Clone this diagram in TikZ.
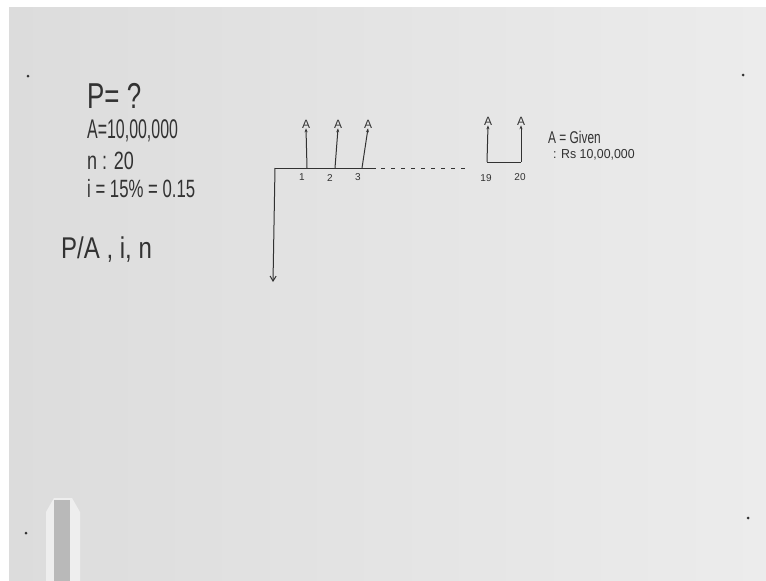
\documentclass[tikz,border=0pt]{standalone}
\usepackage{fontspec}
\setmainfont{Liberation Sans}
\usetikzlibrary{arrows.meta}
\definecolor{boardl}{RGB}{220,220,220}
\definecolor{boardr}{RGB}{236,236,236}
\definecolor{halo}{RGB}{238,238,238}
\definecolor{ink}{RGB}{50,50,50}
\newcommand{\hand}[2][0.6]{\scalebox{#1}[1]{#2}}
\tikzset{
    txt/.style={text=ink, inner sep=0pt, anchor=west},
    big/.style={txt, font=\fontsize{27}{27}\selectfont},
    mid/.style={txt, anchor=center, font=\fontsize{12}{12}\selectfont},
    sml/.style={txt, anchor=center, font=\fontsize{10}{10}\selectfont},
    pen/.style={draw=ink, line width=1pt},
    up/.style={pen, -{Stealth[length=4pt, width=3pt]}},
    pin/.style={circle, fill=ink, inner sep=0pt, minimum size=3pt}
}
\begin{document}
\begin{tikzpicture}[x=1pt, y=-1pt]
    \useasboundingbox (0,0) rectangle (766,581);
    % whiteboard
    \fill[white] (0,0) rectangle (766,581);
    \shade[left color=boardl, right color=boardr] (9,7) rectangle (766,581);
    \node[pin] (pa) at (28,76) {};
    \node[pin] (pb) at (743,75) {};
    \node[pin] (pc) at (26,533) {};
    \node[pin] (pd) at (748,518) {};
    % eraser
    \fill[halo] (46,512) -- (54,498) -- (72,498) -- (80,512) -- (80,581) -- (46,581) -- cycle;
    \fill[gray!55] (54,500) rectangle (70,581);

    % given data
    \node[txt, font=\fontsize{36}{36}\selectfont] (pq) at (87,96) {\hand[0.72]{P= ?}};
    \node[big] (av) at (87,131) {\hand[0.59]{A=10,00,000}};
    \node[big, font=\fontsize{25}{25}\selectfont] (nv) at (87,161) {\hand[0.72]{n : 20}};
    \node[big, font=\fontsize{25}{25}\selectfont] (iv) at (87,189) {\hand[0.67]{i = 15\% = 0.15}};
    \node[big, font=\fontsize{30}{30}\selectfont] (fac) at (61,250) {\hand[0.8]{P/A , i, n}};

    % cash flow line
    \coordinate (o) at (275,168);
    \coordinate (t1) at (307,168);
    \coordinate (t2) at (335,168);
    \coordinate (t3) at (362,168);
    \coordinate (e) at (376,168);
    \coordinate (d) at (465,168);
    \coordinate (p) at (273,282);
    \draw[pen] (o) -- (e);
    \draw[pen, dash pattern=on 4pt off 6pt] (e) ++(5,0) -- (d);
    \draw[pen, -{Straight Barb[length=5pt, width=6pt]}] (o) -- (p);

    \node[mid] (a1) at (306,124) {A};
    \node[mid] (a2) at (338,124) {A};
    \node[mid] (a3) at (368,124) {A};
    \draw[up] (t1) -- (a1.south);
    \draw[up] (t2) -- (a2.south);
    \draw[up] (t3) -- (a3.south);
    \node[sml] (n1) at (302,177) {1};
    \node[sml] (n2) at (330,178) {2};
    \node[sml] (n3) at (358,177) {3};

    % last two years
    \coordinate (b19) at (487,162);
    \coordinate (b20) at (521,162);
    \node[mid] (a19) at (488,121) {A};
    \node[mid] (a20) at (521,121) {A};
    \draw[pen] (b19) -- (b20);
    \draw[up] (b19) -- (a19.south);
    \draw[up] (b20) -- (a20.south);
    \node[sml] (n19) at (486,178) {19};
    \node[sml] (n20) at (520,177) {20};

    \node[txt, font=\fontsize{17}{17}\selectfont] (ag) at (548,137) {\hand[0.7]{A = Given}};
    \node[txt, font=\fontsize{13}{13}\selectfont] (rs) at (553,155) {\hand[0.95]{: Rs 10,00,000}};
\end{tikzpicture}
\end{document}
